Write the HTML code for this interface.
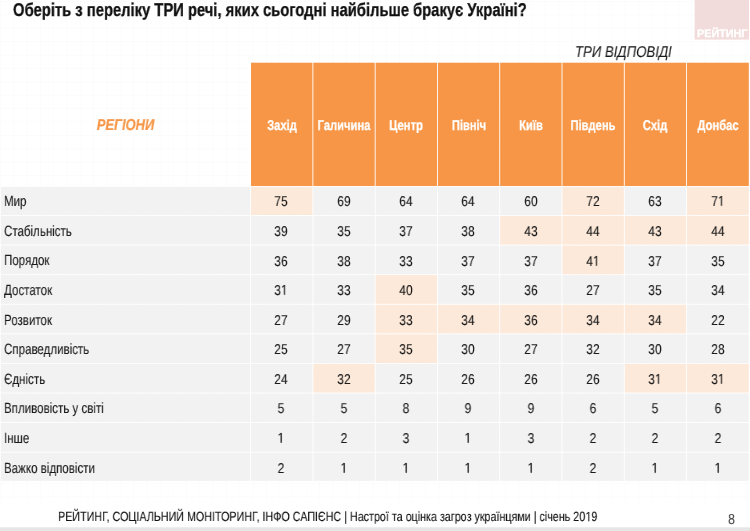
<!DOCTYPE html>
<html><head><meta charset="utf-8"><style>
html,body{margin:0;padding:0;}
body{width:750px;height:531px;position:relative;overflow:hidden;background:#fff;font-family:"Liberation Sans",sans-serif;color:#222;text-rendering:geometricPrecision;}
.grid{position:absolute;left:0;top:0;width:750px;height:501px;
 background-image:linear-gradient(to right, rgba(0,0,0,0.012) 1px, transparent 1px),linear-gradient(to bottom, rgba(0,0,0,0.012) 1px, transparent 1px);
 background-size:13.3px 13.4px;background-position:0 1px;}
svg.bg{position:absolute;left:0;top:0;}
svg.one{display:inline;vertical-align:baseline;fill:currentColor;stroke:currentColor;stroke-width:20;overflow:visible;}
.t{position:absolute;white-space:nowrap;line-height:normal;will-change:transform;}
.lb{transform-origin:0 0;color:#1a1a1a;-webkit-text-stroke:0.12px #1a1a1a;}
.dt{transform-origin:50% 0;color:#1a1a1a;-webkit-text-stroke:0.12px #1a1a1a;}
.hd{transform-origin:50% 0;color:#fff;font-weight:bold;-webkit-text-stroke:0.25px #fff;}
.title{transform-origin:0 0;font-weight:bold;color:#111;-webkit-text-stroke:0.3px #111;}
.lg{transform-origin:0 0;color:#fff;font-weight:bold;-webkit-text-stroke:0.3px #fff;}
.tri{transform-origin:0 0;font-style:italic;color:#1a1a1a;-webkit-text-stroke:0.1px #1a1a1a;}
.reg{transform-origin:50% 0;color:#f79646;font-weight:bold;font-style:italic;-webkit-text-stroke:0.2px #f79646;}
.foot{transform-origin:0 0;color:#111;-webkit-text-stroke:0.12px #111;}
.pg{transform-origin:0 0;color:#404040;}
</style></head><body>
<div class="grid"></div>
<svg class="bg" width="750" height="531" viewBox="0 0 750 531">
<rect x="694.6" y="0" width="54.4" height="39.6" fill="#f2dcdb"/>
<rect x="251.05" y="62.7" width="61.38" height="123.30" fill="#f79646"/><rect x="313.33" y="62.7" width="61.38" height="123.30" fill="#f79646"/><rect x="375.61" y="62.7" width="61.38" height="123.30" fill="#f79646"/><rect x="437.89" y="62.7" width="61.38" height="123.30" fill="#f79646"/><rect x="500.17" y="62.7" width="61.38" height="123.30" fill="#f79646"/><rect x="562.45" y="62.7" width="61.38" height="123.30" fill="#f79646"/><rect x="624.73" y="62.7" width="61.38" height="123.30" fill="#f79646"/><rect x="687.01" y="62.7" width="61.79" height="123.30" fill="#f79646"/><rect x="1.0" y="186.80" width="249.15" height="28.24" fill="#f2f2f2"/><rect x="251.05" y="186.80" width="61.38" height="28.24" fill="#fde9d9"/><rect x="313.33" y="186.80" width="61.38" height="28.24" fill="#f2f2f2"/><rect x="375.61" y="186.80" width="61.38" height="28.24" fill="#f2f2f2"/><rect x="437.89" y="186.80" width="61.38" height="28.24" fill="#f2f2f2"/><rect x="500.17" y="186.80" width="61.38" height="28.24" fill="#f2f2f2"/><rect x="562.45" y="186.80" width="61.38" height="28.24" fill="#fde9d9"/><rect x="624.73" y="186.80" width="61.38" height="28.24" fill="#f2f2f2"/><rect x="687.01" y="186.80" width="61.79" height="28.24" fill="#fde9d9"/><rect x="1.0" y="215.94" width="249.15" height="28.69" fill="#f2f2f2"/><rect x="251.05" y="215.94" width="61.38" height="28.69" fill="#f2f2f2"/><rect x="313.33" y="215.94" width="61.38" height="28.69" fill="#f2f2f2"/><rect x="375.61" y="215.94" width="61.38" height="28.69" fill="#f2f2f2"/><rect x="437.89" y="215.94" width="61.38" height="28.69" fill="#f2f2f2"/><rect x="500.17" y="215.94" width="61.38" height="28.69" fill="#fde9d9"/><rect x="562.45" y="215.94" width="61.38" height="28.69" fill="#fde9d9"/><rect x="624.73" y="215.94" width="61.38" height="28.69" fill="#fde9d9"/><rect x="687.01" y="215.94" width="61.79" height="28.69" fill="#fde9d9"/><rect x="1.0" y="245.53" width="249.15" height="28.69" fill="#f2f2f2"/><rect x="251.05" y="245.53" width="61.38" height="28.69" fill="#f2f2f2"/><rect x="313.33" y="245.53" width="61.38" height="28.69" fill="#f2f2f2"/><rect x="375.61" y="245.53" width="61.38" height="28.69" fill="#f2f2f2"/><rect x="437.89" y="245.53" width="61.38" height="28.69" fill="#f2f2f2"/><rect x="500.17" y="245.53" width="61.38" height="28.69" fill="#f2f2f2"/><rect x="562.45" y="245.53" width="61.38" height="28.69" fill="#fde9d9"/><rect x="624.73" y="245.53" width="61.38" height="28.69" fill="#f2f2f2"/><rect x="687.01" y="245.53" width="61.79" height="28.69" fill="#f2f2f2"/><rect x="1.0" y="275.12" width="249.15" height="28.69" fill="#f2f2f2"/><rect x="251.05" y="275.12" width="61.38" height="28.69" fill="#f2f2f2"/><rect x="313.33" y="275.12" width="61.38" height="28.69" fill="#f2f2f2"/><rect x="375.61" y="275.12" width="61.38" height="28.69" fill="#fde9d9"/><rect x="437.89" y="275.12" width="61.38" height="28.69" fill="#f2f2f2"/><rect x="500.17" y="275.12" width="61.38" height="28.69" fill="#f2f2f2"/><rect x="562.45" y="275.12" width="61.38" height="28.69" fill="#f2f2f2"/><rect x="624.73" y="275.12" width="61.38" height="28.69" fill="#f2f2f2"/><rect x="687.01" y="275.12" width="61.79" height="28.69" fill="#f2f2f2"/><rect x="1.0" y="304.71" width="249.15" height="28.69" fill="#f2f2f2"/><rect x="251.05" y="304.71" width="61.38" height="28.69" fill="#f2f2f2"/><rect x="313.33" y="304.71" width="61.38" height="28.69" fill="#f2f2f2"/><rect x="375.61" y="304.71" width="61.38" height="28.69" fill="#fde9d9"/><rect x="437.89" y="304.71" width="61.38" height="28.69" fill="#fde9d9"/><rect x="500.17" y="304.71" width="61.38" height="28.69" fill="#fde9d9"/><rect x="562.45" y="304.71" width="61.38" height="28.69" fill="#fde9d9"/><rect x="624.73" y="304.71" width="61.38" height="28.69" fill="#fde9d9"/><rect x="687.01" y="304.71" width="61.79" height="28.69" fill="#f2f2f2"/><rect x="1.0" y="334.30" width="249.15" height="28.69" fill="#f2f2f2"/><rect x="251.05" y="334.30" width="61.38" height="28.69" fill="#f2f2f2"/><rect x="313.33" y="334.30" width="61.38" height="28.69" fill="#f2f2f2"/><rect x="375.61" y="334.30" width="61.38" height="28.69" fill="#fde9d9"/><rect x="437.89" y="334.30" width="61.38" height="28.69" fill="#f2f2f2"/><rect x="500.17" y="334.30" width="61.38" height="28.69" fill="#f2f2f2"/><rect x="562.45" y="334.30" width="61.38" height="28.69" fill="#f2f2f2"/><rect x="624.73" y="334.30" width="61.38" height="28.69" fill="#f2f2f2"/><rect x="687.01" y="334.30" width="61.79" height="28.69" fill="#f2f2f2"/><rect x="1.0" y="363.89" width="249.15" height="28.69" fill="#f2f2f2"/><rect x="251.05" y="363.89" width="61.38" height="28.69" fill="#f2f2f2"/><rect x="313.33" y="363.89" width="61.38" height="28.69" fill="#fde9d9"/><rect x="375.61" y="363.89" width="61.38" height="28.69" fill="#f2f2f2"/><rect x="437.89" y="363.89" width="61.38" height="28.69" fill="#f2f2f2"/><rect x="500.17" y="363.89" width="61.38" height="28.69" fill="#f2f2f2"/><rect x="562.45" y="363.89" width="61.38" height="28.69" fill="#f2f2f2"/><rect x="624.73" y="363.89" width="61.38" height="28.69" fill="#fde9d9"/><rect x="687.01" y="363.89" width="61.79" height="28.69" fill="#fde9d9"/><rect x="1.0" y="393.48" width="249.15" height="28.69" fill="#f2f2f2"/><rect x="251.05" y="393.48" width="61.38" height="28.69" fill="#f2f2f2"/><rect x="313.33" y="393.48" width="61.38" height="28.69" fill="#f2f2f2"/><rect x="375.61" y="393.48" width="61.38" height="28.69" fill="#f2f2f2"/><rect x="437.89" y="393.48" width="61.38" height="28.69" fill="#f2f2f2"/><rect x="500.17" y="393.48" width="61.38" height="28.69" fill="#f2f2f2"/><rect x="562.45" y="393.48" width="61.38" height="28.69" fill="#f2f2f2"/><rect x="624.73" y="393.48" width="61.38" height="28.69" fill="#f2f2f2"/><rect x="687.01" y="393.48" width="61.79" height="28.69" fill="#f2f2f2"/><rect x="1.0" y="423.07" width="249.15" height="28.69" fill="#f2f2f2"/><rect x="251.05" y="423.07" width="61.38" height="28.69" fill="#f2f2f2"/><rect x="313.33" y="423.07" width="61.38" height="28.69" fill="#f2f2f2"/><rect x="375.61" y="423.07" width="61.38" height="28.69" fill="#f2f2f2"/><rect x="437.89" y="423.07" width="61.38" height="28.69" fill="#f2f2f2"/><rect x="500.17" y="423.07" width="61.38" height="28.69" fill="#f2f2f2"/><rect x="562.45" y="423.07" width="61.38" height="28.69" fill="#f2f2f2"/><rect x="624.73" y="423.07" width="61.38" height="28.69" fill="#f2f2f2"/><rect x="687.01" y="423.07" width="61.79" height="28.69" fill="#f2f2f2"/><rect x="1.0" y="452.66" width="249.15" height="28.14" fill="#f2f2f2"/><rect x="251.05" y="452.66" width="61.38" height="28.14" fill="#f2f2f2"/><rect x="313.33" y="452.66" width="61.38" height="28.14" fill="#f2f2f2"/><rect x="375.61" y="452.66" width="61.38" height="28.14" fill="#f2f2f2"/><rect x="437.89" y="452.66" width="61.38" height="28.14" fill="#f2f2f2"/><rect x="500.17" y="452.66" width="61.38" height="28.14" fill="#f2f2f2"/><rect x="562.45" y="452.66" width="61.38" height="28.14" fill="#f2f2f2"/><rect x="624.73" y="452.66" width="61.38" height="28.14" fill="#f2f2f2"/><rect x="687.01" y="452.66" width="61.79" height="28.14" fill="#f2f2f2"/>
<rect x="0" y="527.3" width="750" height="3.7000000000000455" fill="#e6e6e6"/>
</svg>
<div class="t title" style="left:13.00px;top:-0.74px;font-size:18.5px;transform:scaleX(0.798)">Оберіть з переліку ТРИ речі, яких сьогодні найбільше бракує Україні?</div>
<div class="t lg" style="left:697.00px;top:28.03px;font-size:10.8px;transform:scaleX(1.0)">РЕЙТИНГ</div>
<div class="t tri" style="left:575.00px;top:43.77px;font-size:15.5px;transform:scaleX(0.85)">ТРИ ВІДПОВІДІ</div>
<div class="t reg" style="left:1.00px;top:117.20px;width:249.00px;text-align:center;font-size:15.8px;transform:scaleX(0.82)">РЕГІОНИ</div>
<div class="t hd" style="left:231.74px;top:117.75px;width:100.00px;text-align:center;font-size:14.2px;transform:scaleX(0.79)">Захід</div><div class="t hd" style="left:294.02px;top:117.75px;width:100.00px;text-align:center;font-size:14.2px;transform:scaleX(0.79)">Галичина</div><div class="t hd" style="left:356.30px;top:117.75px;width:100.00px;text-align:center;font-size:14.2px;transform:scaleX(0.79)">Центр</div><div class="t hd" style="left:418.58px;top:117.75px;width:100.00px;text-align:center;font-size:14.2px;transform:scaleX(0.79)">Північ</div><div class="t hd" style="left:480.86px;top:117.75px;width:100.00px;text-align:center;font-size:14.2px;transform:scaleX(0.79)">Київ</div><div class="t hd" style="left:543.14px;top:117.75px;width:100.00px;text-align:center;font-size:14.2px;transform:scaleX(0.79)">Південь</div><div class="t hd" style="left:605.42px;top:117.75px;width:100.00px;text-align:center;font-size:14.2px;transform:scaleX(0.79)">Схід</div><div class="t hd" style="left:667.90px;top:117.75px;width:100.00px;text-align:center;font-size:14.2px;transform:scaleX(0.79)">Донбас</div><div class="t lb" style="left:4.00px;top:194.31px;font-size:14.8px;transform:scaleX(0.78)">Мир</div><div class="t dt" style="left:251.44px;top:194.35px;width:60.00px;text-align:center;font-size:14.2px;transform:scaleX(0.84)">75</div><div class="t dt" style="left:313.72px;top:194.35px;width:60.00px;text-align:center;font-size:14.2px;transform:scaleX(0.84)">69</div><div class="t dt" style="left:376.00px;top:194.35px;width:60.00px;text-align:center;font-size:14.2px;transform:scaleX(0.84)">64</div><div class="t dt" style="left:438.28px;top:194.35px;width:60.00px;text-align:center;font-size:14.2px;transform:scaleX(0.84)">64</div><div class="t dt" style="left:500.56px;top:194.35px;width:60.00px;text-align:center;font-size:14.2px;transform:scaleX(0.84)">60</div><div class="t dt" style="left:562.84px;top:194.35px;width:60.00px;text-align:center;font-size:14.2px;transform:scaleX(0.84)">72</div><div class="t dt" style="left:625.12px;top:194.35px;width:60.00px;text-align:center;font-size:14.2px;transform:scaleX(0.84)">63</div><div class="t dt" style="left:687.61px;top:194.35px;width:60.00px;text-align:center;font-size:14.2px;transform:scaleX(0.84)">7<svg class="one" viewBox="0 -1409 1139 1409" width="0.5562em" height="0.688em"><path d="M515,0 L515,-1237 L197,-1010 L197,-1180 L530,-1409 L696,-1409 L696,0 Z"/></svg></div><div class="t lb" style="left:4.00px;top:223.90px;font-size:14.8px;transform:scaleX(0.78)">Стабільність</div><div class="t dt" style="left:251.44px;top:223.94px;width:60.00px;text-align:center;font-size:14.2px;transform:scaleX(0.84)">39</div><div class="t dt" style="left:313.72px;top:223.94px;width:60.00px;text-align:center;font-size:14.2px;transform:scaleX(0.84)">35</div><div class="t dt" style="left:376.00px;top:223.94px;width:60.00px;text-align:center;font-size:14.2px;transform:scaleX(0.84)">37</div><div class="t dt" style="left:438.28px;top:223.94px;width:60.00px;text-align:center;font-size:14.2px;transform:scaleX(0.84)">38</div><div class="t dt" style="left:500.56px;top:223.94px;width:60.00px;text-align:center;font-size:14.2px;transform:scaleX(0.84)">43</div><div class="t dt" style="left:562.84px;top:223.94px;width:60.00px;text-align:center;font-size:14.2px;transform:scaleX(0.84)">44</div><div class="t dt" style="left:625.12px;top:223.94px;width:60.00px;text-align:center;font-size:14.2px;transform:scaleX(0.84)">43</div><div class="t dt" style="left:687.61px;top:223.94px;width:60.00px;text-align:center;font-size:14.2px;transform:scaleX(0.84)">44</div><div class="t lb" style="left:4.00px;top:253.49px;font-size:14.8px;transform:scaleX(0.78)">Порядок</div><div class="t dt" style="left:251.44px;top:253.53px;width:60.00px;text-align:center;font-size:14.2px;transform:scaleX(0.84)">36</div><div class="t dt" style="left:313.72px;top:253.53px;width:60.00px;text-align:center;font-size:14.2px;transform:scaleX(0.84)">38</div><div class="t dt" style="left:376.00px;top:253.53px;width:60.00px;text-align:center;font-size:14.2px;transform:scaleX(0.84)">33</div><div class="t dt" style="left:438.28px;top:253.53px;width:60.00px;text-align:center;font-size:14.2px;transform:scaleX(0.84)">37</div><div class="t dt" style="left:500.56px;top:253.53px;width:60.00px;text-align:center;font-size:14.2px;transform:scaleX(0.84)">37</div><div class="t dt" style="left:562.84px;top:253.53px;width:60.00px;text-align:center;font-size:14.2px;transform:scaleX(0.84)">4<svg class="one" viewBox="0 -1409 1139 1409" width="0.5562em" height="0.688em"><path d="M515,0 L515,-1237 L197,-1010 L197,-1180 L530,-1409 L696,-1409 L696,0 Z"/></svg></div><div class="t dt" style="left:625.12px;top:253.53px;width:60.00px;text-align:center;font-size:14.2px;transform:scaleX(0.84)">37</div><div class="t dt" style="left:687.61px;top:253.53px;width:60.00px;text-align:center;font-size:14.2px;transform:scaleX(0.84)">35</div><div class="t lb" style="left:4.00px;top:283.08px;font-size:14.8px;transform:scaleX(0.78)">Достаток</div><div class="t dt" style="left:251.44px;top:283.12px;width:60.00px;text-align:center;font-size:14.2px;transform:scaleX(0.84)">3<svg class="one" viewBox="0 -1409 1139 1409" width="0.5562em" height="0.688em"><path d="M515,0 L515,-1237 L197,-1010 L197,-1180 L530,-1409 L696,-1409 L696,0 Z"/></svg></div><div class="t dt" style="left:313.72px;top:283.12px;width:60.00px;text-align:center;font-size:14.2px;transform:scaleX(0.84)">33</div><div class="t dt" style="left:376.00px;top:283.12px;width:60.00px;text-align:center;font-size:14.2px;transform:scaleX(0.84)">40</div><div class="t dt" style="left:438.28px;top:283.12px;width:60.00px;text-align:center;font-size:14.2px;transform:scaleX(0.84)">35</div><div class="t dt" style="left:500.56px;top:283.12px;width:60.00px;text-align:center;font-size:14.2px;transform:scaleX(0.84)">36</div><div class="t dt" style="left:562.84px;top:283.12px;width:60.00px;text-align:center;font-size:14.2px;transform:scaleX(0.84)">27</div><div class="t dt" style="left:625.12px;top:283.12px;width:60.00px;text-align:center;font-size:14.2px;transform:scaleX(0.84)">35</div><div class="t dt" style="left:687.61px;top:283.12px;width:60.00px;text-align:center;font-size:14.2px;transform:scaleX(0.84)">34</div><div class="t lb" style="left:4.00px;top:312.67px;font-size:14.8px;transform:scaleX(0.78)">Розвиток</div><div class="t dt" style="left:251.44px;top:312.71px;width:60.00px;text-align:center;font-size:14.2px;transform:scaleX(0.84)">27</div><div class="t dt" style="left:313.72px;top:312.71px;width:60.00px;text-align:center;font-size:14.2px;transform:scaleX(0.84)">29</div><div class="t dt" style="left:376.00px;top:312.71px;width:60.00px;text-align:center;font-size:14.2px;transform:scaleX(0.84)">33</div><div class="t dt" style="left:438.28px;top:312.71px;width:60.00px;text-align:center;font-size:14.2px;transform:scaleX(0.84)">34</div><div class="t dt" style="left:500.56px;top:312.71px;width:60.00px;text-align:center;font-size:14.2px;transform:scaleX(0.84)">36</div><div class="t dt" style="left:562.84px;top:312.71px;width:60.00px;text-align:center;font-size:14.2px;transform:scaleX(0.84)">34</div><div class="t dt" style="left:625.12px;top:312.71px;width:60.00px;text-align:center;font-size:14.2px;transform:scaleX(0.84)">34</div><div class="t dt" style="left:687.61px;top:312.71px;width:60.00px;text-align:center;font-size:14.2px;transform:scaleX(0.84)">22</div><div class="t lb" style="left:4.00px;top:342.26px;font-size:14.8px;transform:scaleX(0.78)">Справедливість</div><div class="t dt" style="left:251.44px;top:342.30px;width:60.00px;text-align:center;font-size:14.2px;transform:scaleX(0.84)">25</div><div class="t dt" style="left:313.72px;top:342.30px;width:60.00px;text-align:center;font-size:14.2px;transform:scaleX(0.84)">27</div><div class="t dt" style="left:376.00px;top:342.30px;width:60.00px;text-align:center;font-size:14.2px;transform:scaleX(0.84)">35</div><div class="t dt" style="left:438.28px;top:342.30px;width:60.00px;text-align:center;font-size:14.2px;transform:scaleX(0.84)">30</div><div class="t dt" style="left:500.56px;top:342.30px;width:60.00px;text-align:center;font-size:14.2px;transform:scaleX(0.84)">27</div><div class="t dt" style="left:562.84px;top:342.30px;width:60.00px;text-align:center;font-size:14.2px;transform:scaleX(0.84)">32</div><div class="t dt" style="left:625.12px;top:342.30px;width:60.00px;text-align:center;font-size:14.2px;transform:scaleX(0.84)">30</div><div class="t dt" style="left:687.61px;top:342.30px;width:60.00px;text-align:center;font-size:14.2px;transform:scaleX(0.84)">28</div><div class="t lb" style="left:4.00px;top:371.85px;font-size:14.8px;transform:scaleX(0.78)">Єдність</div><div class="t dt" style="left:251.44px;top:371.89px;width:60.00px;text-align:center;font-size:14.2px;transform:scaleX(0.84)">24</div><div class="t dt" style="left:313.72px;top:371.89px;width:60.00px;text-align:center;font-size:14.2px;transform:scaleX(0.84)">32</div><div class="t dt" style="left:376.00px;top:371.89px;width:60.00px;text-align:center;font-size:14.2px;transform:scaleX(0.84)">25</div><div class="t dt" style="left:438.28px;top:371.89px;width:60.00px;text-align:center;font-size:14.2px;transform:scaleX(0.84)">26</div><div class="t dt" style="left:500.56px;top:371.89px;width:60.00px;text-align:center;font-size:14.2px;transform:scaleX(0.84)">26</div><div class="t dt" style="left:562.84px;top:371.89px;width:60.00px;text-align:center;font-size:14.2px;transform:scaleX(0.84)">26</div><div class="t dt" style="left:625.12px;top:371.89px;width:60.00px;text-align:center;font-size:14.2px;transform:scaleX(0.84)">3<svg class="one" viewBox="0 -1409 1139 1409" width="0.5562em" height="0.688em"><path d="M515,0 L515,-1237 L197,-1010 L197,-1180 L530,-1409 L696,-1409 L696,0 Z"/></svg></div><div class="t dt" style="left:687.61px;top:371.89px;width:60.00px;text-align:center;font-size:14.2px;transform:scaleX(0.84)">3<svg class="one" viewBox="0 -1409 1139 1409" width="0.5562em" height="0.688em"><path d="M515,0 L515,-1237 L197,-1010 L197,-1180 L530,-1409 L696,-1409 L696,0 Z"/></svg></div><div class="t lb" style="left:4.00px;top:401.44px;font-size:14.8px;transform:scaleX(0.78)">Впливовість у світі</div><div class="t dt" style="left:251.44px;top:401.48px;width:60.00px;text-align:center;font-size:14.2px;transform:scaleX(0.84)">5</div><div class="t dt" style="left:313.72px;top:401.48px;width:60.00px;text-align:center;font-size:14.2px;transform:scaleX(0.84)">5</div><div class="t dt" style="left:376.00px;top:401.48px;width:60.00px;text-align:center;font-size:14.2px;transform:scaleX(0.84)">8</div><div class="t dt" style="left:438.28px;top:401.48px;width:60.00px;text-align:center;font-size:14.2px;transform:scaleX(0.84)">9</div><div class="t dt" style="left:500.56px;top:401.48px;width:60.00px;text-align:center;font-size:14.2px;transform:scaleX(0.84)">9</div><div class="t dt" style="left:562.84px;top:401.48px;width:60.00px;text-align:center;font-size:14.2px;transform:scaleX(0.84)">6</div><div class="t dt" style="left:625.12px;top:401.48px;width:60.00px;text-align:center;font-size:14.2px;transform:scaleX(0.84)">5</div><div class="t dt" style="left:687.61px;top:401.48px;width:60.00px;text-align:center;font-size:14.2px;transform:scaleX(0.84)">6</div><div class="t lb" style="left:4.00px;top:431.03px;font-size:14.8px;transform:scaleX(0.78)">Інше</div><div class="t dt" style="left:251.44px;top:431.07px;width:60.00px;text-align:center;font-size:14.2px;transform:scaleX(0.84)"><svg class="one" viewBox="0 -1409 1139 1409" width="0.5562em" height="0.688em"><path d="M515,0 L515,-1237 L197,-1010 L197,-1180 L530,-1409 L696,-1409 L696,0 Z"/></svg></div><div class="t dt" style="left:313.72px;top:431.07px;width:60.00px;text-align:center;font-size:14.2px;transform:scaleX(0.84)">2</div><div class="t dt" style="left:376.00px;top:431.07px;width:60.00px;text-align:center;font-size:14.2px;transform:scaleX(0.84)">3</div><div class="t dt" style="left:438.28px;top:431.07px;width:60.00px;text-align:center;font-size:14.2px;transform:scaleX(0.84)"><svg class="one" viewBox="0 -1409 1139 1409" width="0.5562em" height="0.688em"><path d="M515,0 L515,-1237 L197,-1010 L197,-1180 L530,-1409 L696,-1409 L696,0 Z"/></svg></div><div class="t dt" style="left:500.56px;top:431.07px;width:60.00px;text-align:center;font-size:14.2px;transform:scaleX(0.84)">3</div><div class="t dt" style="left:562.84px;top:431.07px;width:60.00px;text-align:center;font-size:14.2px;transform:scaleX(0.84)">2</div><div class="t dt" style="left:625.12px;top:431.07px;width:60.00px;text-align:center;font-size:14.2px;transform:scaleX(0.84)">2</div><div class="t dt" style="left:687.61px;top:431.07px;width:60.00px;text-align:center;font-size:14.2px;transform:scaleX(0.84)">2</div><div class="t lb" style="left:4.00px;top:460.62px;font-size:14.8px;transform:scaleX(0.78)">Важко відповісти</div><div class="t dt" style="left:251.44px;top:460.66px;width:60.00px;text-align:center;font-size:14.2px;transform:scaleX(0.84)">2</div><div class="t dt" style="left:313.72px;top:460.66px;width:60.00px;text-align:center;font-size:14.2px;transform:scaleX(0.84)"><svg class="one" viewBox="0 -1409 1139 1409" width="0.5562em" height="0.688em"><path d="M515,0 L515,-1237 L197,-1010 L197,-1180 L530,-1409 L696,-1409 L696,0 Z"/></svg></div><div class="t dt" style="left:376.00px;top:460.66px;width:60.00px;text-align:center;font-size:14.2px;transform:scaleX(0.84)"><svg class="one" viewBox="0 -1409 1139 1409" width="0.5562em" height="0.688em"><path d="M515,0 L515,-1237 L197,-1010 L197,-1180 L530,-1409 L696,-1409 L696,0 Z"/></svg></div><div class="t dt" style="left:438.28px;top:460.66px;width:60.00px;text-align:center;font-size:14.2px;transform:scaleX(0.84)"><svg class="one" viewBox="0 -1409 1139 1409" width="0.5562em" height="0.688em"><path d="M515,0 L515,-1237 L197,-1010 L197,-1180 L530,-1409 L696,-1409 L696,0 Z"/></svg></div><div class="t dt" style="left:500.56px;top:460.66px;width:60.00px;text-align:center;font-size:14.2px;transform:scaleX(0.84)"><svg class="one" viewBox="0 -1409 1139 1409" width="0.5562em" height="0.688em"><path d="M515,0 L515,-1237 L197,-1010 L197,-1180 L530,-1409 L696,-1409 L696,0 Z"/></svg></div><div class="t dt" style="left:562.84px;top:460.66px;width:60.00px;text-align:center;font-size:14.2px;transform:scaleX(0.84)">2</div><div class="t dt" style="left:625.12px;top:460.66px;width:60.00px;text-align:center;font-size:14.2px;transform:scaleX(0.84)"><svg class="one" viewBox="0 -1409 1139 1409" width="0.5562em" height="0.688em"><path d="M515,0 L515,-1237 L197,-1010 L197,-1180 L530,-1409 L696,-1409 L696,0 Z"/></svg></div><div class="t dt" style="left:687.61px;top:460.66px;width:60.00px;text-align:center;font-size:14.2px;transform:scaleX(0.84)"><svg class="one" viewBox="0 -1409 1139 1409" width="0.5562em" height="0.688em"><path d="M515,0 L515,-1237 L197,-1010 L197,-1180 L530,-1409 L696,-1409 L696,0 Z"/></svg></div>
<div class="t foot" style="left:57.50px;top:509.37px;font-size:13.4px;transform:scaleX(0.8016)">РЕЙТИНГ, СОЦІАЛЬНИЙ МОНІТОРИНГ, ІНФО САПІЄНС | Настрої та оцінка загроз українцями | січень 20<svg class="one" viewBox="0 -1409 1139 1409" width="0.5562em" height="0.688em"><path d="M515,0 L515,-1237 L197,-1010 L197,-1180 L530,-1409 L696,-1409 L696,0 Z"/></svg>9</div>
<div class="t pg" style="left:727.50px;top:512.28px;font-size:14.5px;transform:scaleX(0.87)">8</div>
</body></html>
